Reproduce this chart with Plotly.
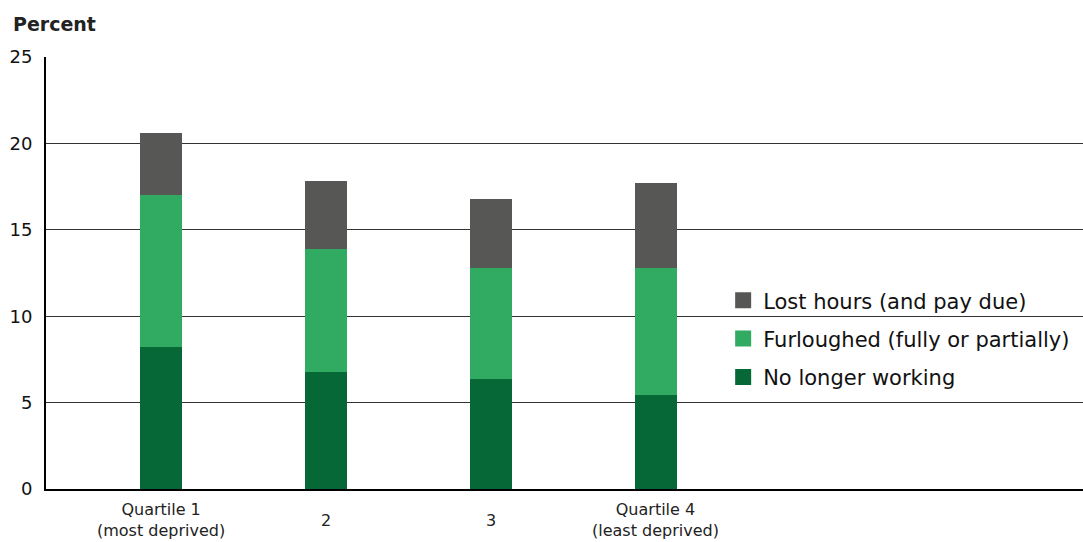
import plotly.graph_objects as go

categories = ["Quartile 1<br>(most deprived)", "2", "3", "Quartile 4<br>(least deprived)"]
no_longer_working = [8.2, 6.8, 6.35, 5.45]
furloughed = [8.8, 7.1, 6.45, 7.35]
lost_hours = [3.6, 3.9, 4.0, 4.9]
y_ticks = [0, 5, 10, 15, 20, 25]

xpos = list(range(len(categories)))
FONT = "DejaVu Sans"

fig = go.Figure()
series = [
    ("No longer working", no_longer_working, "#066836"),
    ("Furloughed (fully or partially)", furloughed, "#31AA62"),
    ("Lost hours (and pay due)", lost_hours, "#575755"),
]
for name, vals, col in series:
    fig.add_trace(go.Bar(x=xpos, y=vals, name=name, marker=dict(color=col, line=dict(width=0)),
                         width=0.26, showlegend=False))
for name, vals, col in reversed(series):
    fig.add_trace(go.Scatter(x=[None], y=[None], mode="markers", name=name, legendgroup=name,
                             marker=dict(symbol="square", size=16, color=col)))

for i, c in enumerate(categories):
    fig.add_annotation(x=xpos[i], y=-0.072, xref="x", yref="paper", text=c, showarrow=False,
                       yanchor="middle", font=dict(size=16, color="#222", family=FONT))

fig.add_annotation(xref="paper", yref="paper", x=-0.034, y=1.076, text="<b>Percent</b>",
                   showarrow=False, xanchor="left", yanchor="middle",
                   font=dict(size=19, color="#222", family=FONT))

fig.update_layout(
    barmode="stack",
    width=1083, height=542,
    margin=dict(l=46, r=0, t=57, b=53),
    plot_bgcolor="white", paper_bgcolor="white",
    font=dict(family=FONT, color="#111"),
    legend=dict(x=0.653, y=0.348, xanchor="left", yanchor="middle",
                traceorder="grouped",
                font=dict(size=21, color="#111", family=FONT), tracegroupgap=8,
                bgcolor="rgba(0,0,0,0)", itemsizing="trace"),
    showlegend=True,
)
fig.update_xaxes(range=[-0.697, 5.588], showticklabels=False, showgrid=False, zeroline=False,
                 showline=True, linecolor="black", linewidth=2, ticks="")
fig.update_yaxes(range=[0, 25], tickvals=y_ticks, showgrid=True, gridcolor="#333", gridwidth=1,
                 zeroline=False, showline=True, linecolor="black", linewidth=2, ticks="",
                 tickfont=dict(size=18, color="#111", family=FONT), ticklabelstandoff=8)

fig.write_html("out.html", config={"displayModeBar": False},
               post_script="document.body.style.margin='0';")
